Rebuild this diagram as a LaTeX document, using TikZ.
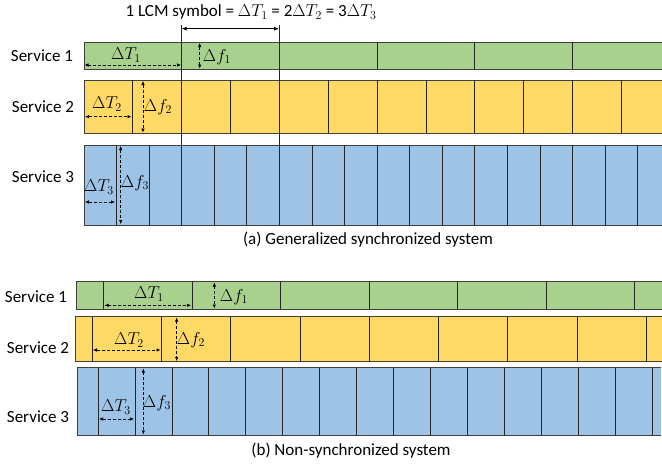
\documentclass[tikz,border=0pt]{standalone}
\usepackage{fontspec}
\setmainfont{Carlito}
\usetikzlibrary{arrows.meta}

\definecolor{svcgreen}{HTML}{A9D18E}
\definecolor{svcyellow}{HTML}{FFD966}
\definecolor{svcblue}{HTML}{9DC3E6}

\tikzset{
  bar/.style={draw=black!75, line width=0.8pt},
  cut/.style={draw=black!85, line width=0.8pt},
  dim/.style={densely dashed, line width=0.6pt,
    {Latex[length=4pt,width=3.5pt]}-{Latex[length=4pt,width=3.5pt]}},
  lcm/.style={line width=0.7pt,
    {Latex[length=5pt,width=4pt]}-{Latex[length=5pt,width=4pt]}},
  lbl/.style={inner sep=0pt}
}

\begin{document}
\begin{tikzpicture}[x=1pt, y=-1pt]
\useasboundingbox (0,0) rectangle (662,464);
\fontsize{17}{20}\selectfont

% (a) generalized synchronized system
\fill[svcgreen] (84,42) rectangle (664,69.3);
\draw[bar] (664,42) -- (84,42) -- (84,69.3) -- (664,69.3);
\foreach \i in {1,...,5} \draw[cut] (84+97.7*\i,42) -- ++(0,27.3);
\fill[svcyellow] (84,80.3) rectangle (664,133.3);
\draw[bar] (664,80.3) -- (84,80.3) -- (84,133.3) -- (664,133.3);
\foreach \i in {1,...,11} \draw[cut] (84+48.85*\i,80.3) -- ++(0,53);
\fill[svcblue] (84,145) rectangle (664,225);
\draw[bar] (664,145) -- (84,145) -- (84,225) -- (664,225);
\foreach \i in {1,...,17} \draw[cut] (84+32.57*\i,145) -- ++(0,80);

\node[lbl] (s1a) at (42,56) {Service 1};
\node[lbl] (s2a) at (43,107) {Service 2};
\node[lbl] (s3a) at (43,177) {Service 3};

% one LCM symbol
\draw[cut] (181.7,25) -- (181.7,225);
\draw[cut] (279,25) -- (279,225);
\coordinate (lcmL) at (181.7,28.7);
\coordinate (lcmR) at (279,28.7);
\draw[lcm] (lcmL) -- (lcmR);
\node[lbl] (lcmtxt) at (251,12) {1 LCM symbol = $\Delta T_1$ = 2$\Delta T_2$ = 3$\Delta T_3$};

% spacings in (a)
\coordinate (aT1s) at (84.5,65);   \coordinate (aT1e) at (181,65);
\coordinate (aF1s) at (199.7,43);  \coordinate (aF1e) at (199.7,68.5);
\coordinate (aT2s) at (85,116.7);  \coordinate (aT2e) at (131.5,116.7);
\coordinate (aF2s) at (143,81);    \coordinate (aF2e) at (143,132.5);
\coordinate (aT3s) at (85,202);    \coordinate (aT3e) at (115,202);
\coordinate (aF3s) at (120.7,146); \coordinate (aF3e) at (120.7,224);
\draw[dim] (aT1s) -- (aT1e);
\draw[dim] (aF1s) -- (aF1e);
\draw[dim] (aT2s) -- (aT2e);
\draw[dim] (aF2s) -- (aF2e);
\draw[dim] (aT3s) -- (aT3e);
\draw[dim] (aF3s) -- (aF3e);
\node[lbl] (aT1) at (126,55) {$\Delta T_1$};
\node[lbl] (aF1) at (217,57) {$\Delta f_1$};
\node[lbl] (aT2) at (107,104) {$\Delta T_2$};
\node[lbl] (aF2) at (158,107) {$\Delta f_2$};
\node[lbl] (aT3) at (99,187) {$\Delta T_3$};
\node[lbl] (aF3) at (135,183) {$\Delta f_3$};

\node[lbl] (capa) at (368,240) {(a) Generalized synchronized system};

% (b) non-synchronized system
\fill[svcgreen] (76.3,281.7) rectangle (664,309.3);
\draw[bar] (664,281.7) -- (76.3,281.7) -- (76.3,309.3) -- (664,309.3);
\foreach \i in {0,...,6} \draw[cut] (103.7+88.5*\i,281.7) -- ++(0,27.6);
\fill[svcyellow] (75.3,316.7) rectangle (664,361.7);
\draw[bar] (664,316.7) -- (75.3,316.7) -- (75.3,361.7) -- (664,361.7);
\foreach \i in {0,...,8} \draw[cut] (92+69.3*\i,316.7) -- ++(0,45);
\fill[svcblue] (77,367.7) rectangle (660.7,435.3);
\draw[bar] (660.7,367.7) -- (77,367.7) -- (77,435.3) -- (660.7,435.3);
\foreach \i in {0,...,15} \draw[cut] (98+36.95*\i,367.7) -- ++(0,67.6);

\node[lbl] (s1b) at (36,297) {Service 1};
\node[lbl] (s2b) at (38,348) {Service 2};
\node[lbl] (s3b) at (38,417) {Service 3};

% spacings in (b)
\coordinate (bT1s) at (104.5,305.3); \coordinate (bT1e) at (191,305.3);
\coordinate (bF1s) at (214.3,282.5); \coordinate (bF1e) at (214.3,308.5);
\coordinate (bT2s) at (93,350);      \coordinate (bT2e) at (160.5,350);
\coordinate (bF2s) at (176.7,317.5); \coordinate (bF2e) at (176.7,361);
\coordinate (bT3s) at (99,419);      \coordinate (bT3e) at (134,419);
\coordinate (bF3s) at (143.3,368.5); \coordinate (bF3e) at (143.3,434.5);
\draw[dim] (bT1s) -- (bT1e);
\draw[dim] (bF1s) -- (bF1e);
\draw[dim] (bT2s) -- (bT2e);
\draw[dim] (bF2s) -- (bF2e);
\draw[dim] (bT3s) -- (bT3e);
\draw[dim] (bF3s) -- (bF3e);
\node[lbl] (bT1) at (149,294) {$\Delta T_1$};
\node[lbl] (bF1) at (234,297) {$\Delta f_1$};
\node[lbl] (bT2) at (129,340) {$\Delta T_2$};
\node[lbl] (bF2) at (191,340) {$\Delta f_2$};
\node[lbl] (bT3) at (116,407) {$\Delta T_3$};
\node[lbl] (bF3) at (157,403) {$\Delta f_3$};

\node[lbl] (capb) at (351,450.7) {(b) Non-synchronized system};
\end{tikzpicture}
\end{document}
